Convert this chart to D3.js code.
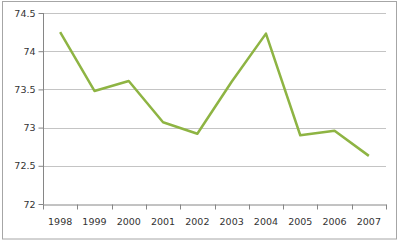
<!DOCTYPE html>
<html>
<head>
<meta charset="utf-8">
<script src="https://cdn.jsdelivr.net/npm/d3@7"></script>
<style>
  body { margin: 0; background: #fff; }
  .axis text { font-family: "DejaVu Sans", Verdana, sans-serif; font-size: 9.5px; fill: #333; }
</style>
</head>
<body>
<div id="chart"></div>
<script>
var years = ['1998', '1999', '2000', '2001', '2002', '2003', '2004', '2005', '2006', '2007'];
var values = [74.25, 73.48, 73.61, 73.07, 72.92, 73.6, 74.23, 72.9, 72.96, 72.63];
var yTicks = [72, 72.5, 73, 73.5, 74, 74.5];

var svgWidth = 400;
var svgHeight = 242;
var margin = {top: 13, right: 14, bottom: 38, left: 43};

var svg = d3.select('#chart').append('svg')
  .attr('width', svgWidth)
  .attr('height', svgHeight);

// outer frame
svg.append('rect')
  .attr('x', 2.5).attr('y', 1.5)
  .attr('width', 394).attr('height', 237.5)
  .attr('fill', 'none')
  .attr('stroke', '#a6a6a6');

var xRange = d3.scaleBand()
  .range([margin.left, svgWidth - margin.right])
  .domain(years);

var yRange = d3.scaleLinear()
  .range([svgHeight - margin.bottom, margin.top])
  .domain([72, 74.5]);

// gridlines
svg.append('g')
  .selectAll('line')
  .data(yTicks.slice(1))
  .enter()
  .append('line')
  .attr('x1', margin.left)
  .attr('x2', svgWidth - margin.right)
  .attr('y1', d => Math.round(yRange(d)) + 0.5)
  .attr('y2', d => Math.round(yRange(d)) + 0.5)
  .attr('stroke', '#c4c4c4');

var yAxis = d3.axisLeft(yRange)
  .tickValues(yTicks)
  .tickFormat(d => String(d))
  .tickSize(5)
  .tickPadding(3);

var gy = svg.append('g')
  .attr('class', 'y axis')
  .attr('transform', 'translate(' + (margin.left + 0.5) + ',0)')
  .call(yAxis);

var xAxis = d3.axisBottom(xRange)
  .tickSize(0)
  .tickPadding(14);

var gx = svg.append('g')
  .attr('class', 'x axis')
  .attr('transform', 'translate(0,' + (Math.round(yRange(72)) + 0.5) + ')')
  .call(xAxis);

// category boundary ticks
gx.selectAll('.bound')
  .data(years.concat(['end']))
  .enter()
  .append('line')
  .attr('x1', (d, i) => Math.round(margin.left + i * xRange.step()) + 0.5)
  .attr('x2', (d, i) => Math.round(margin.left + i * xRange.step()) + 0.5)
  .attr('y1', 0).attr('y2', 5)
  .attr('stroke', '#868686');

svg.selectAll('.axis path, .axis .tick line').attr('stroke', '#868686');
gy.select('.domain').attr('d', 'M0,' + yRange(74.5) + 'V' + (Math.round(yRange(72)) + 0.5));

var line = d3.line()
  .x((d, i) => xRange(years[i]) + xRange.bandwidth() / 2)
  .y(d => yRange(d));

svg.append('path')
  .datum(values)
  .attr('d', line)
  .attr('fill', 'none')
  .attr('stroke', '#8eb443')
  .attr('stroke-width', 2.5)
  .attr('stroke-linejoin', 'round');
</script>
</body>
</html>
